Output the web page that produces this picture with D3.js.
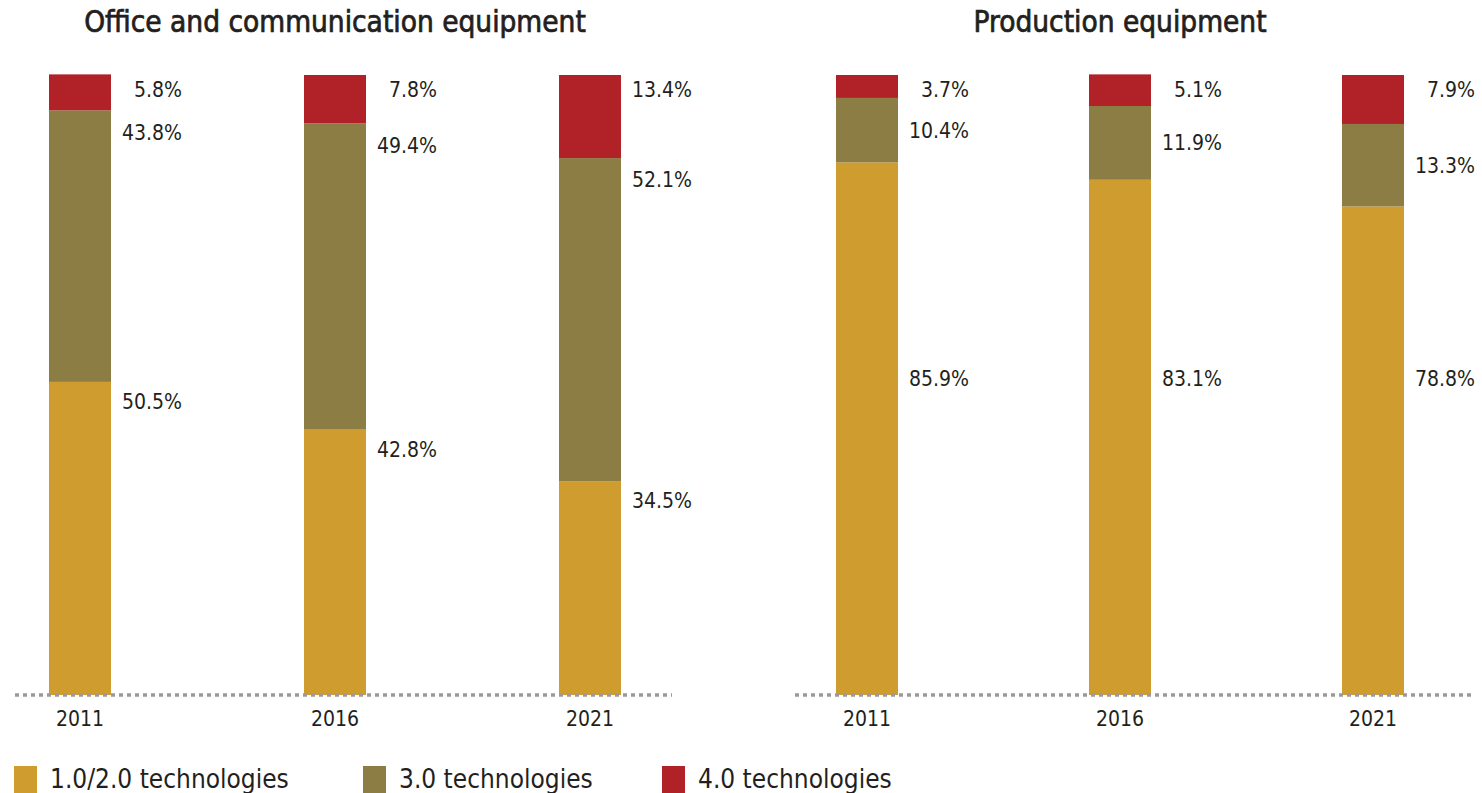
<!DOCTYPE html>
<html lang="en">
<head>
<meta charset="utf-8">
<title>Technology shares</title>
<style>
  body { margin: 0; background: #fff; }
  text { font-family: "DejaVu Sans Condensed", "Liberation Sans Narrow", sans-serif; fill: #231f20; }
  .title { font-size: 29.5px; text-anchor: middle; stroke: #231f20; stroke-width: 0.7px; }
  .year { font-size: 21px; text-anchor: middle; }
  .val { font-size: 21px; text-anchor: end; }
  .legend text { font-size: 26px; }
</style>
<script src="https://d3js.org/d3.v7.min.js"></script>
</head>
<body>
<script>
var w = 1482, h = 793;

// data
var years = ["2011", "2016", "2021"];
var panels = ["Office and communication equipment", "Production equipment"];
var series = ["1.0/2.0 technologies", "3.0 technologies", "4.0 technologies"];
var colors = ["#cf9d2f", "#8b7d43", "#b12228"];
// values per panel, per year
var tech12 = [[50.5, 42.8, 34.5], [85.9, 83.1, 78.8]];
var tech3  = [[43.8, 49.4, 52.1], [10.4, 11.9, 13.3]];
var tech4  = [[5.8, 7.8, 13.4], [3.7, 5.1, 7.9]];

var svg = d3.select("body").append("svg")
  .attr("width", w)
  .attr("height", h);

var y = d3.scaleLinear().domain([0, 100]).range([695, 75]);
var barW = 62;

// layout per panel: bar centre range, baseline extent
var layout = [
  { range: [80, 590], base: [15, 672] },
  { range: [867, 1373], base: [795, 1475] }
];

panels.forEach(function(name, p) {
  var x = d3.scalePoint().domain(years).range(layout[p].range);

  var rows = years.map(function(yr, i) {
    return { year: yr, s0: tech12[p][i], s1: tech3[p][i], s2: tech4[p][i] };
  });
  var stack = d3.stack().keys(["s0", "s1", "s2"])(rows);

  var g = svg.append("g");

  g.append("text")
    .attr("class", "title")
    .attr("x", x("2016"))
    .attr("y", 32)
    .text(name);

  stack.forEach(function(layer, k) {
    g.selectAll(".bar" + k)
      .data(layer)
      .enter().append("rect")
      .attr("x", function(d) { return x(d.data.year) - barW / 2; })
      .attr("width", barW)
      .attr("y", function(d) { return y(d[1]); })
      .attr("height", function(d) { return y(d[0]) - y(d[1]); })
      .attr("fill", colors[k]);

    g.selectAll(".val" + k)
      .data(layer)
      .enter().append("text")
      .attr("class", "val")
      .attr("x", function(d) { return x(d.data.year) + 102; })
      .attr("y", function(d) {
        var top = y(d[1]), bot = y(d[0]), hh = bot - top;
        if (k == 2) return top + 15;
        if (k == 1) return hh < 100 ? top + hh / 2 : top + 22;
        return Math.max(top + 20, y(51));
      })
      .attr("dy", "0.35em")
      .text(function(d) { return d.data["s" + k].toFixed(1) + "%"; });
  });

  // dotted baseline
  g.append("line")
    .attr("x1", layout[p].base[0])
    .attr("x2", layout[p].base[1])
    .attr("y1", 695)
    .attr("y2", 695)
    .attr("stroke", "#9a9a9a")
    .attr("stroke-width", 3.5)
    .attr("stroke-dasharray", "4,4");

  g.selectAll(".year")
    .data(years)
    .enter().append("text")
    .attr("class", "year")
    .attr("x", function(d) { return x(d); })
    .attr("y", 719)
    .attr("dy", "0.35em")
    .text(function(d) { return d; });
});

// legend
var legX = [14, 363, 662];
var leg = svg.append("g").attr("class", "legend");
series.forEach(function(s, i) {
  leg.append("rect")
    .attr("x", legX[i])
    .attr("y", 766)
    .attr("width", 23)
    .attr("height", 27)
    .attr("fill", colors[i]);
  leg.append("text")
    .attr("x", legX[i] + 36)
    .attr("y", 779)
    .attr("dy", "0.35em")
    .text(s);
});
</script>
</body>
</html>
